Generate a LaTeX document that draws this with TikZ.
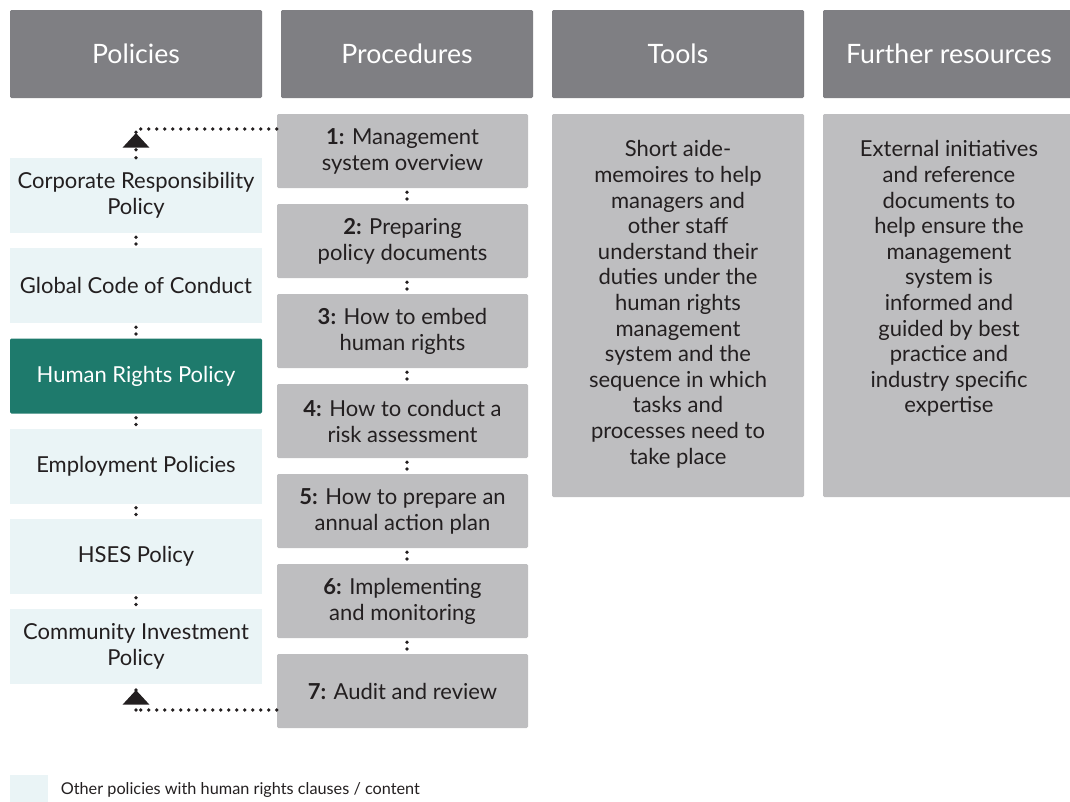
\documentclass[tikz,border=0pt]{standalone}
\usepackage{fontspec}
\setmainfont{Lato}
\usetikzlibrary{positioning,arrows.meta}

\definecolor{hdrgrey}{HTML}{7F7F83}
\definecolor{boxgrey}{HTML}{BEBEC0}
\definecolor{polblue}{HTML}{EAF4F6}
\definecolor{hrteal}{HTML}{1E7A6C}
\definecolor{txt}{HTML}{231F20}

\tikzset{
  hdr/.style={fill=hdrgrey, rounded corners=1pt, minimum width=189pt, minimum height=66pt,
    text=white, font=\fontsize{20}{24}\selectfont},
  pol/.style={fill=polblue, minimum width=189pt, minimum height=56.25pt, align=center,
    text=txt, font=\fontsize{16.5}{19.5}\selectfont},
  hrpol/.style={pol, fill=hrteal, text=white, rounded corners=1pt},
  proc/.style={fill=boxgrey, rounded corners=1pt, minimum width=188.25pt, minimum height=55.5pt,
    align=center, text=txt, font=\fontsize{16.5}{19.5}\selectfont},
  info/.style={fill=boxgrey, rounded corners=1pt, minimum width=189pt, minimum height=287.25pt},
  infotxt/.style={inner sep=0pt, align=center, text=txt, font=\fontsize{16.5}{19.2}\selectfont},
  dots/.style={txt, line width=2.9pt, dash pattern=on 0pt off 6pt, line cap=round},
  gap/.style={dots, dash pattern=on 0pt off 5pt, shorten <=3pt, shorten >=2.8pt},
  uptip/.style={-{Triangle[width=19.5pt,length=11pt]}}
}

\begin{document}
\begin{tikzpicture}[x=0.75pt,y=-0.75pt]
\useasboundingbox (0,0) rectangle (1070,801);

% column heads
\node[hdr] (polhd) at (136,54) {Policies};
\node[hdr] (prochd) at (407,54) {Procedures};
\node[hdr] (toolhd) at (678,54) {Tools};
\node[hdr] (reshd) at (949,54) {Further resources};

% policies
\node[pol] (crp) at (136,195.5) {Corporate Responsibility\\Policy};
\node[pol] (gcc) at (136,285.5) {Global Code of Conduct};
\node[hrpol] (hrp) at (136,376) {Human Rights Policy};
\node[pol] (emp) at (136,466) {Employment Policies};
\node[pol] (hses) at (136,556) {HSES Policy};
\node[pol] (cip) at (136,646.5) {Community Investment\\Policy};

% procedures
\node[proc] (p1) at (402.5,151) {\textbf{1:} Management\\system overview};
\node[proc] (p2) at (402.5,241) {\textbf{2:} Preparing\\policy documents};
\node[proc] (p3) at (402.5,331) {\textbf{3:} How to embed\\human rights};
\node[proc] (p4) at (402.5,421) {\textbf{4:} How to conduct a\\risk assessment};
\node[proc] (p5) at (402.5,511) {\textbf{5:} How to prepare an\\annual action plan};
\node[proc] (p6) at (402.5,601) {\textbf{6:} Implementing\\and monitoring};
\node[proc] (p7) at (402.5,691) {\textbf{7:} Audit and review};

% tools and further resources
\node[info] (tools) at (678,305.5) {};
\node[infotxt, below=20pt of tools.north] {Short aide-\\memoires to help\\managers and\\other staff\\understand their\\duties under the\\human rights\\management\\system and the\\sequence in which\\tasks and\\processes need to\\take place};
\node[info] (res) at (949,305.5) {};
\node[infotxt, below=20pt of res.north] {External initiatives\\and reference\\documents to\\help ensure the\\management\\system is\\informed and\\guided by best\\practice and\\industry specific\\expertise};

% dotted links
\foreach \a/\b in {crp/gcc,gcc/hrp,hrp/emp,emp/hses,hses/cip}
  \draw[gap] (\a.south) -- (\b.north);
\foreach \a/\b in {p1/p2,p2/p3,p3/p4,p4/p5,p5/p6,p6/p7}
  \draw[gap] (\a.south -| prochd) -- (\b.north -| prochd);

\coordinate (tl) at (136,129);
\coordinate (tiptop) at (136,133);
\draw[dots] (tl -| p1.west) -- (tl) -- (tiptop);
\draw[dots, uptip] (crp.north) -- (tiptop);

\coordinate (bl) at (136,710);
\coordinate (tipbot) at (136,690);
\draw[dots] (bl -| p7.west) -- (bl);
\draw[dots, uptip] (bl) -- (tipbot);
\draw[dots] (tipbot) -- (cip.south);

% key
\node[fill=polblue, minimum width=28.5pt, minimum height=22pt, anchor=north west] (key) at (10,775) {};
\node[right=9pt of key, inner sep=0pt, text=txt, font=\fontsize{12.2}{14}\selectfont] (keytxt) {Other policies with human rights clauses / content};
\end{tikzpicture}
\end{document}
